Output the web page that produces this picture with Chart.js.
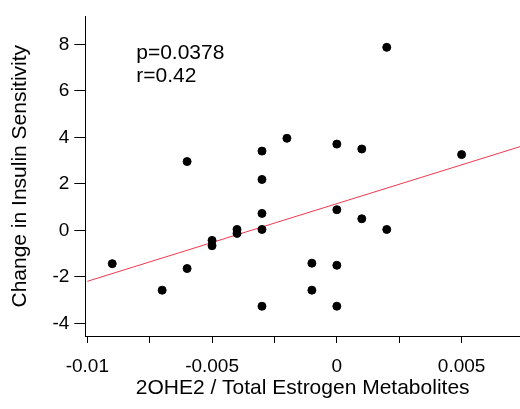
<!DOCTYPE html>
<html>
<head>
<meta charset="utf-8">
<script src="https://cdn.jsdelivr.net/npm/chart.js@4"></script>
<style>
  html, body { margin: 0; padding: 0; background: #fff; }
  #wrap { width: 520px; height: 409px; }
</style>
</head>
<body>
<div id="wrap"><canvas id="myChart"></canvas></div>
<script>
// ratio 2OHE2 / total estrogen metabolites
const xVals = [-0.009, -0.007, -0.006, -0.006, -0.005, -0.005, -0.004, -0.004,
  -0.003, -0.003, -0.003, -0.003, -0.003, -0.002, -0.001, -0.001,
  0, 0, 0, 0, 0.001, 0.001, 0.002, 0.002, 0.005];
// change in insulin sensitivity
const yVals = [-1.43, -2.57, 2.96, -1.64, -0.43, -0.66, 0.04, -0.13,
  3.41, 2.19, 0.73, 0.04, -3.26, 3.96, -1.41, -2.57,
  3.71, 0.89, -1.5, -3.26, 3.5, 0.5, 7.87, 0.04, 3.26];

// regression line end points
const fitX = [-0.01, 0.00734];
const fitY = [-2.19, 3.6];

const xTicks = [-0.01, -0.0075, -0.005, -0.0025, 0, 0.0025, 0.005];
const xLabels = ["-0.01", "", "-0.005", "", "0", "", "0.005"];
const yTicks = [-4, -2, 0, 2, 4, 6, 8];

const statsText = ["p=0.0378", "r=0.42"];
const statsAt = { x: -0.00804, y: 7.38 };

const ctx = document.querySelector("#myChart");
const FONT = "'Liberation Sans', Arial, sans-serif";

const statsPlugin = {
  id: "stats",
  afterDatasetsDraw(chart) {
    const c = chart.ctx;
    const px = chart.scales.x.getPixelForValue(statsAt.x);
    const py = chart.scales.y.getPixelForValue(statsAt.y);
    c.save();
    c.fillStyle = "#000";
    c.font = "21px " + FONT;
    c.textBaseline = "alphabetic";
    c.textAlign = "left";
    statsText.forEach((t, i) => c.fillText(t, px, py + i * 23.4));
    c.restore();
  }
};

const puntos = xVals.map((x, i) => ({ x: x, y: yVals[i] }));
const linea = fitX.map((x, i) => ({ x: x, y: fitY[i] }));

new Chart(ctx, {
  type: "scatter",
  data: {
    datasets: [
      {
        data: linea,
        showLine: true,
        borderColor: "#f0384f",
        borderWidth: 1,
        pointRadius: 0,
        order: 2
      },
      {
        data: puntos,
        backgroundColor: "#000",
        borderColor: "#000",
        pointRadius: 4,
        order: 1
      }
    ]
  },
  options: {
    responsive: true,
    maintainAspectRatio: false,
    animation: false,
    layout: { autoPadding: false, padding: { left: 8, top: 15, right: 0, bottom: 9 } },
    plugins: { legend: { display: false }, tooltip: { enabled: false } },
    scales: {
      x: {
        type: "linear",
        min: -0.01008,
        max: 0.00734,
        afterBuildTicks: (s) => { s.ticks = xTicks.map(v => ({ value: v })); },
        ticks: {
          color: "#000",
          padding: 14,
          maxRotation: 0,
          autoSkip: false,
          font: { family: FONT, size: 19, lineHeight: 1 },
          callback: (v, i) => xLabels[i]
        },
        grid: { drawOnChartArea: false, color: "#000", tickLength: 7 },
        border: { color: "#000", width: 1 },
        title: {
          display: true,
          text: "2OHE2 / Total Estrogen Metabolites",
          color: "#000",
          font: { family: FONT, size: 21 },
          padding: { top: -14.2, bottom: -1 }
        }
      },
      y: {
        type: "linear",
        min: -4.54,
        max: 9.2,
        afterBuildTicks: (s) => { s.ticks = yTicks.map(v => ({ value: v })); },
        ticks: {
          color: "#000",
          padding: 5,
          autoSkip: false,
          font: { family: FONT, size: 19 },
          callback: (v) => String(v)
        },
        grid: { drawOnChartArea: false, color: "#000", tickLength: 11 },
        border: { color: "#000", width: 1 },
        title: {
          display: true,
          text: "Change in Insulin Sensitivity",
          color: "#000",
          font: { family: FONT, size: 21 },
          padding: { top: 0, bottom: 14.2 }
        }
      }
    }
  },
  plugins: [statsPlugin]
});
</script>
</body>
</html>
